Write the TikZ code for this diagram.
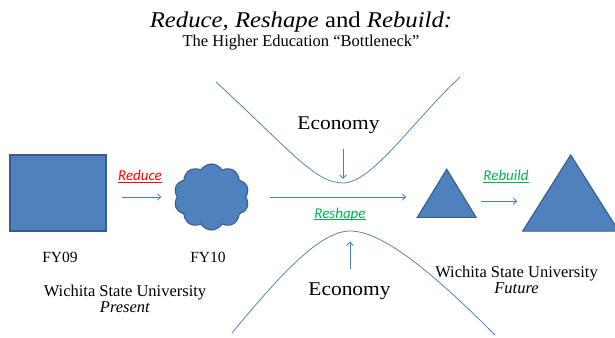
\documentclass[tikz,border=0pt]{standalone}
\usepackage{fontspec}
\setmainfont{Liberation Serif}
\newfontfamily\widefont[FakeStretch=1.1]{Liberation Serif}
\newfontfamily\calibri{Carlito}
\usetikzlibrary{shapes.geometric,shapes.symbols,arrows.meta}
\definecolor{shapeblue}{HTML}{4F81BD}
\definecolor{edgeblue}{HTML}{385D8A}
\definecolor{lineblue}{HTML}{4A7EBB}
\definecolor{reshapegreen}{HTML}{00B050}
\newcommand\steprule[1]{\setbox0\hbox{#1}\rlap{\rule[-2.4pt]{\wd0}{1.1pt}}\box0}

\begin{document}
\begin{tikzpicture}[x=1pt,y=-1pt,
  blob/.style={fill=shapeblue,draw=edgeblue,line width=1.1pt,inner sep=0pt,outer sep=0pt},
  flow/.style={draw=lineblue,line width=0.8pt,-{Straight Barb[length=3.5pt,width=6.5pt]}},
  neck/.style={draw=lineblue,line width=0.75pt},
  caption/.style={anchor=base,inner sep=0pt,font=\fontsize{16.5}{19}\selectfont},
  econ/.style={anchor=base,inner sep=0pt,font=\widefont\fontsize{19.5}{23}\selectfont},
  steplabel/.style={anchor=base,inner sep=0pt,font=\calibri\itshape\fontsize{15}{18}\selectfont}]
\useasboundingbox (0,0) rectangle (615,337);

% title
\node[anchor=base,inner sep=0pt,font=\widefont\fontsize{22.5}{27}\selectfont] (title) at (301,27.7)
  {\textit{Reduce, Reshape} and \textit{Rebuild:}};
\node[caption] (subtitle) at (301,47) {The Higher Education “Bottleneck”};

% the bottleneck
\draw[neck] (216,82) .. controls (290,150) and (315,183) .. (343,183) coordinate (dip)
  .. controls (372,183) and (412,122) .. (460,77);
\draw[neck] (232,333) .. controls (280,275) and (320,231) .. (350,231) coordinate (crest)
  .. controls (385,231) and (440,280) .. (495,335);

\node[econ] (econtop) at (338.5,129) {Economy};
\node[econ] (econbot) at (349.5,295) {Economy};
\draw[flow,shorten <=16pt,shorten >=4pt] (econtop.south -| dip) -- (dip);
\draw[flow,shorten <=13pt,shorten >=10.5pt] (econbot.north -| crest) -- (crest);

% the shapes
\node[blob,rectangle,minimum width=96pt,minimum height=76pt] (fy09box) at (58,193) {};
\node[blob,cloud,cloud puffs=10,cloud puff arc=120,aspect=1.15,
  minimum width=75pt,minimum height=66pt] (fy10cloud) at (211.5,197) {};
\node[blob,regular polygon,regular polygon sides=3,minimum size=67.8pt,yscale=0.945] (smalltri) at (446.7,201.3) {};
\node[blob,regular polygon,regular polygon sides=3,minimum size=110.9pt,yscale=0.915] (bigtri) at (570.7,205.7) {};

\draw[flow,shorten <=16pt,shorten >=16pt] (fy09box.east |- fy10cloud.west) -- (fy10cloud.west);
\draw[flow,shorten <=24pt,shorten >=21pt] (fy10cloud.east) -- (fy10cloud.east -| smalltri.west);
\draw[flow,shorten <=15pt,shorten >=21.5pt] (smalltri.east) -- (smalltri.east -| bigtri.west);

\node[steplabel,text=red] (reducelbl) at (140,180.7) {\steprule{Reduce}};
\node[steplabel,text=reshapegreen] (reshapelbl) at (340,218) {\steprule{Reshape}};
\node[steplabel,text=reshapegreen] (rebuildlbl) at (506,180.7) {\steprule{Rebuild}};

% captions
\node[caption,font=\fontsize{15.5}{18}\selectfont] (fy09) at (60,262) {FY09};
\node[caption,font=\fontsize{15.5}{18}\selectfont] (fy10) at (208,262) {FY10};
\node[caption] (wsunow) at (125,296.7) {Wichita State University};
\node[caption] (present) at (125,312) {\textit{Present}};
\node[caption] (wsulater) at (516.5,277.3) {Wichita State University};
\node[caption] (future) at (516.5,293) {\textit{Future}};
\end{tikzpicture}
\end{document}
